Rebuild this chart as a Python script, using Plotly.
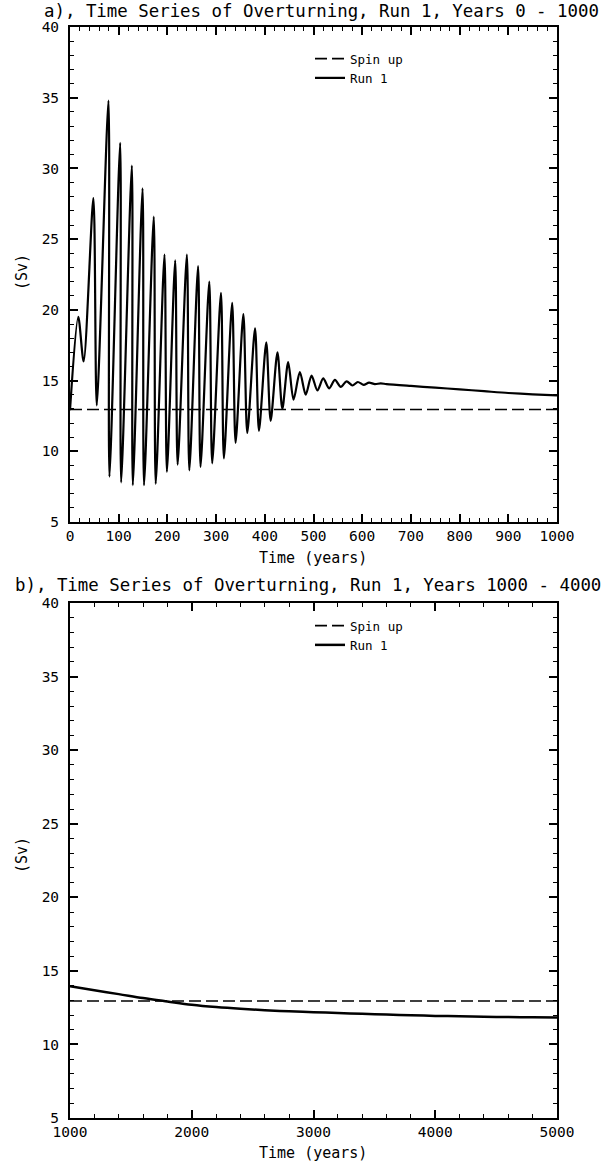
import plotly.graph_objects as go

# ---------------- data ----------------
# Panel a) Years 0 - 1000
years_a = [0, 17, 28, 48, 55, 79, 81, 103, 105, 127, 129, 149, 152, 172, 176,
           194, 199, 216, 221, 240, 245, 263, 268, 286, 292, 310, 316, 333, 340,
           356, 364, 380, 388, 403, 412, 426, 436, 448, 459, 472, 484, 496, 508,
           520, 532, 544, 556, 568, 580, 591, 603, 614, 626, 638, 650, 700, 750,
           800, 850, 900, 950, 1000]
run1_a = [12.9, 19.5, 16.35, 27.9, 13.25, 34.8, 8.2, 31.8, 7.8, 30.2, 7.6, 28.6, 7.6, 26.6, 7.7,
          23.9, 8.55, 23.5, 9.05, 23.9, 8.65, 23.1, 8.9, 22.0, 9.15, 21.2, 9.5, 20.5, 10.6,
          19.7, 11.3, 18.7, 11.45, 17.7, 12.15, 17.0, 13.0, 16.3, 13.65, 15.6, 14.0, 15.35, 14.3,
          15.15, 14.45, 15.05, 14.55, 14.95, 14.65, 14.9, 14.7, 14.85, 14.75, 14.8, 14.75, 14.62, 14.5,
          14.38, 14.25, 14.12, 14.03, 13.95]
spin_years_a = [0, 1000]
spin_a = [12.95, 12.95]

# Panel b) Years 1000 - 5000
years_b = [1000, 1200, 1400, 1600, 1800, 2000, 2200, 2400, 2600, 2800, 3000,
           3200, 3400, 3600, 3800, 4000, 4200, 4400, 4600, 4800, 5000]
run1_b = [13.95, 13.68, 13.42, 13.15, 12.92, 12.7, 12.54, 12.42, 12.33, 12.25, 12.19,
          12.14, 12.08, 12.03, 11.98, 11.94, 11.91, 11.88, 11.86, 11.84, 11.83]
spin_years_b = [1000, 5000]
spin_b = [12.95, 12.95]

titles = ["a), Time Series of Overturning, Run 1, Years 0 - 1000",
          "b), Time Series of Overturning, Run 1, Years 1000 - 4000"]
x_title = "Time (years)"
y_title = "(Sv)"

# ---------------- figure ----------------
W, H = 615, 1166
ML, MR, MT, MB = 70, 58, 27, 48
PH = H - MT - MB
PW = W - ML - MR
FONT = "DejaVu Sans Mono"


def py(px):  # pixel y -> paper y
    return (H - MB - px) / PH


def pxx(px):  # pixel x -> paper x
    return (px - ML) / PW


fig = go.Figure()

dash_style = dict(color="black", width=1.6, dash="12px,5px")

fig.add_trace(go.Scatter(x=spin_years_a, y=spin_a, mode="lines", name="Spin up",
                         line=dash_style, xaxis="x", yaxis="y", legend="legend"))
fig.add_trace(go.Scatter(x=years_a, y=run1_a, mode="lines", name="Run 1",
                         line=dict(color="black", width=2.2, shape="spline", smoothing=0.8),
                         xaxis="x", yaxis="y", legend="legend"))
fig.add_trace(go.Scatter(x=spin_years_b, y=spin_b, mode="lines", name="Spin up",
                         line=dash_style, xaxis="x2", yaxis="y2", legend="legend2"))
fig.add_trace(go.Scatter(x=years_b, y=run1_b, mode="lines", name="Run 1",
                         line=dict(color="black", width=2.5, shape="spline"),
                         xaxis="x2", yaxis="y2", legend="legend2"))

tickfont = dict(family=FONT, size=14.5, color="black")
minor_common = dict(ticks="inside", ticklen=4, tickwidth=1.2, tickcolor="black", showgrid=False)
axis_common = dict(showline=True, linecolor="black", linewidth=2, mirror="allticks",
                   ticks="inside", ticklen=8, tickwidth=1.5, tickcolor="black",
                   showgrid=False, zeroline=False, tickfont=tickfont)

top_box = (27, 522)
bot_box = (603, 1118)

fig.update_layout(
    width=W, height=H,
    margin=dict(l=ML, r=MR, t=MT, b=MB),
    paper_bgcolor="white", plot_bgcolor="white",
    font=dict(family=FONT, color="black"),
    xaxis=dict(axis_common, domain=[0, 1], anchor="y", range=[0, 1000], dtick=100,
               minor=dict(minor_common, dtick=20)),
    yaxis=dict(axis_common, domain=[py(top_box[1]), py(top_box[0])], anchor="x",
               range=[5, 40], dtick=5, ticklabelstandoff=6,
               minor=dict(minor_common, dtick=1)),
    xaxis2=dict(axis_common, domain=[0, 1], anchor="y2", range=[1000, 5000], dtick=1000,
                minor=dict(minor_common, dtick=200)),
    yaxis2=dict(axis_common, domain=[py(bot_box[1]), py(bot_box[0])], anchor="x2",
                range=[5, 40], dtick=5, ticklabelstandoff=6,
                minor=dict(minor_common, dtick=1)),
    legend=dict(x=pxx(310), y=py(44), xanchor="left", yanchor="top",
                bgcolor="rgba(0,0,0,0)", font=dict(family=FONT, size=12.5),
                tracegroupgap=0, itemwidth=30),
    legend2=dict(x=pxx(310), y=py(611), xanchor="left", yanchor="top",
                 bgcolor="rgba(0,0,0,0)", font=dict(family=FONT, size=12.5),
                 tracegroupgap=0, itemwidth=30),
    showlegend=True,
)

ann_font = dict(family=FONT, size=17.4, color="black")
lab_font = dict(family=FONT, size=15, color="black")
annotations = [
    dict(text=titles[0], x=pxx(321), y=py(11), font=ann_font),
    dict(text=titles[1], x=pxx(308), y=py(585), font=ann_font),
    dict(text=x_title, x=pxx(313), y=py(558), font=lab_font),
    dict(text=x_title, x=pxx(313), y=py(1153), font=lab_font),
    dict(text=y_title, x=pxx(22), y=py(272), font=lab_font, textangle=-90),
    dict(text=y_title, x=pxx(22), y=py(855), font=lab_font, textangle=-90),
]
for a in annotations:
    a.update(xref="paper", yref="paper", showarrow=False, xanchor="center", yanchor="middle")
fig.update_layout(annotations=annotations)

fig.write_html("out.html",
               config={"displayModeBar": False},
               post_script="document.body.style.margin='0px';document.body.style.padding='0px';")
